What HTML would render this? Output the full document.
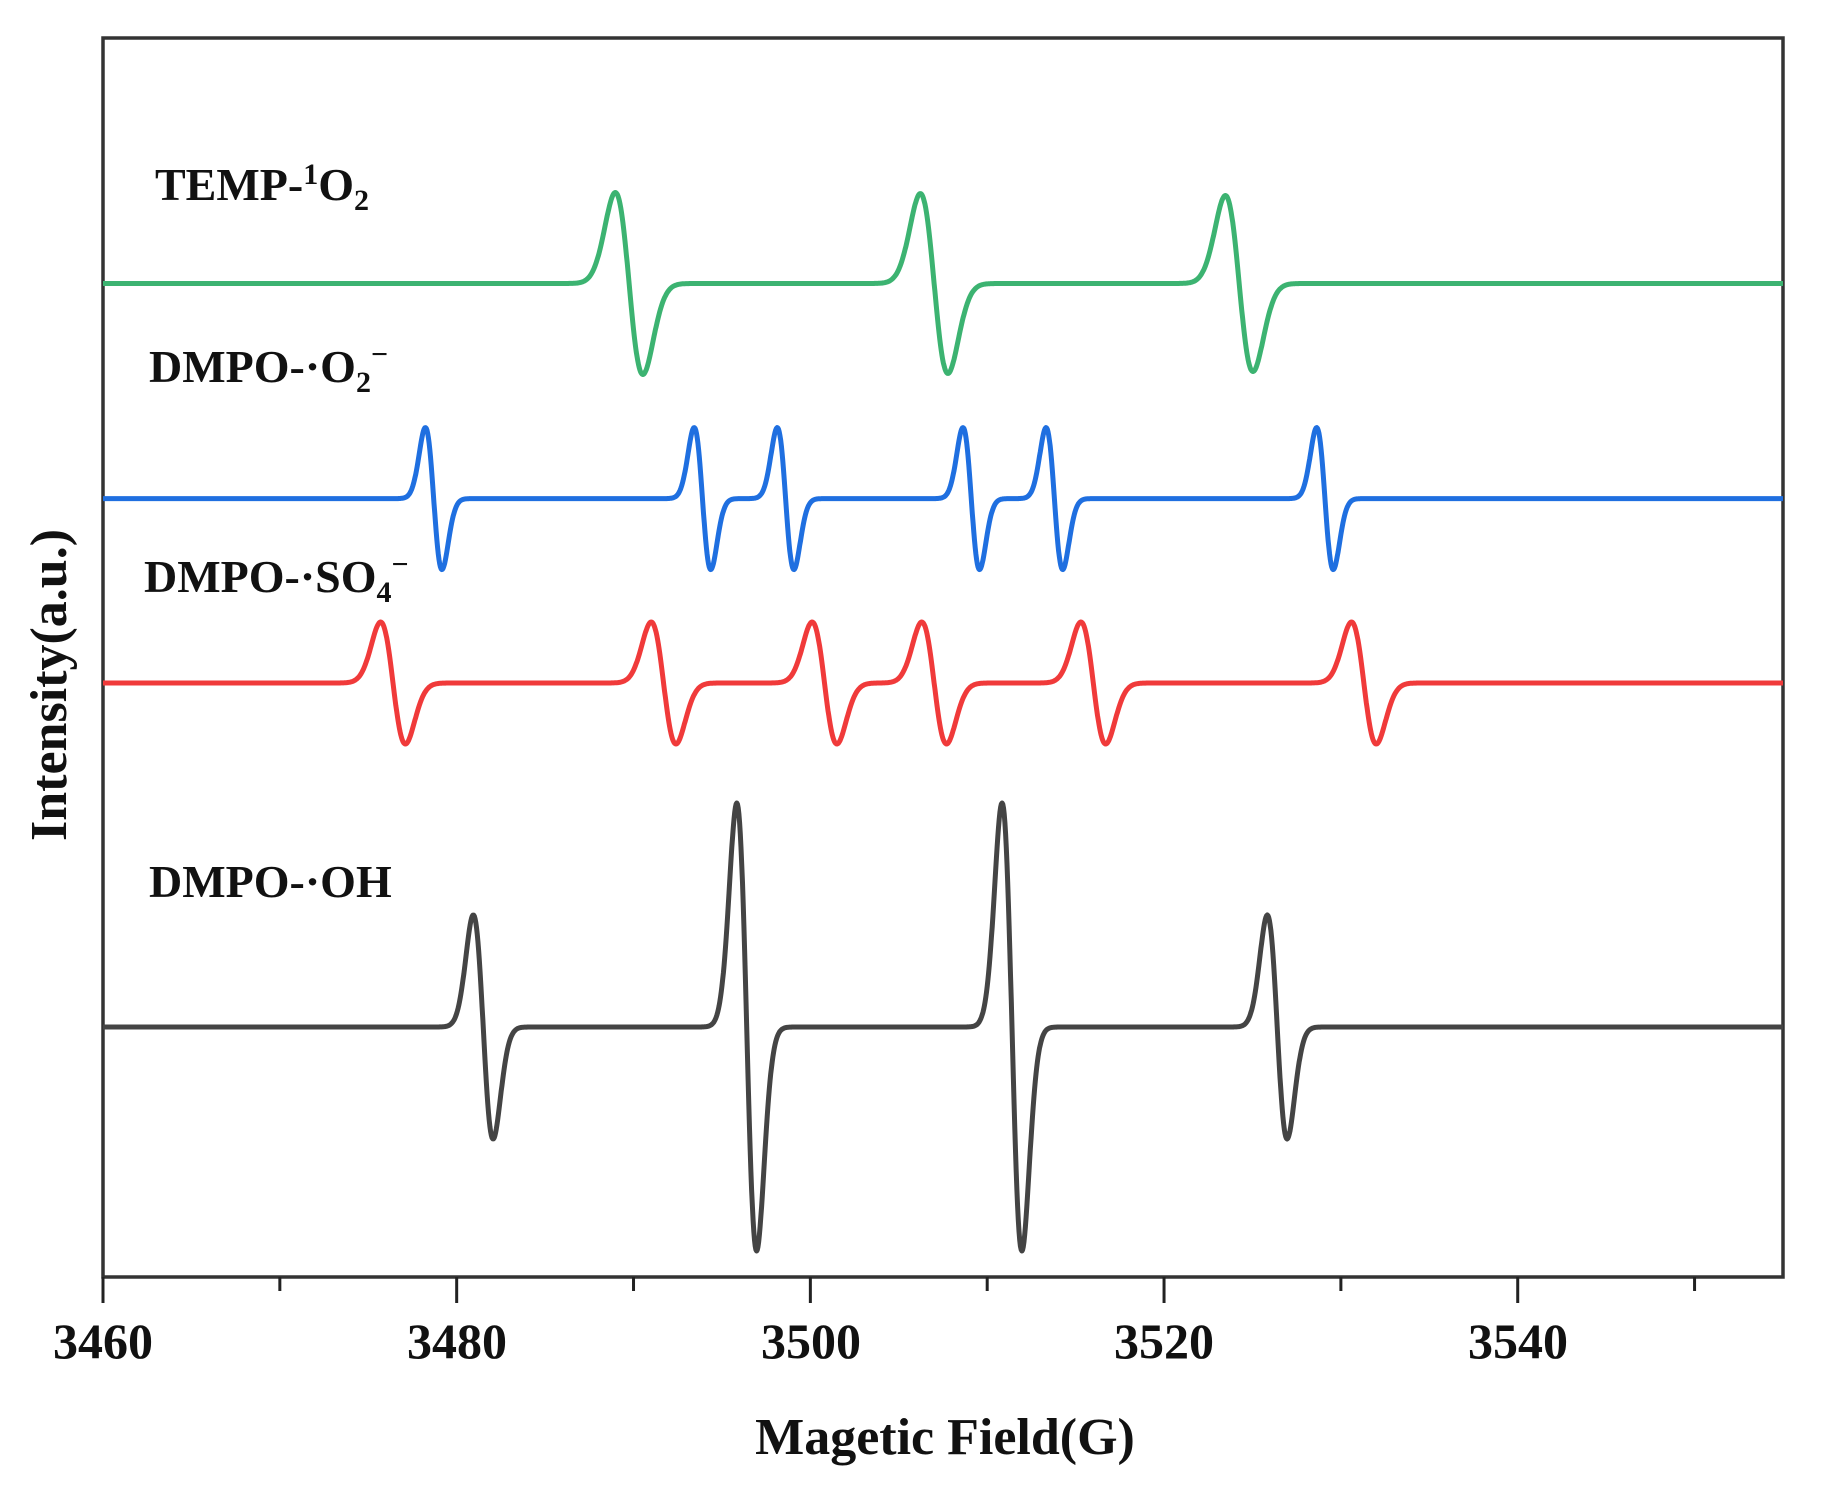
<!DOCTYPE html>
<html><head><meta charset="utf-8"><style>
body{margin:0;background:#fff;}
svg text{font-family:"Liberation Serif",serif;font-weight:bold;fill:#111;}
</style></head><body>
<svg id="s" width="1830" height="1491" viewBox="0 0 1830 1491" xmlns="http://www.w3.org/2000/svg">
<rect x="103" y="38" width="1680" height="1239" fill="none" stroke="#333" stroke-width="3.5"/>
<g id="ticks" stroke="#222" stroke-width="3"></g>
<g font-size="50" text-anchor="middle">
<text x="103" y="1358">3460</text><text x="457" y="1358">3480</text><text x="811" y="1358">3500</text><text x="1164" y="1358">3520</text><text x="1518" y="1358">3540</text>
</g>
<text x="945" y="1454" font-size="52" text-anchor="middle">Magetic Field(G)</text>
<text transform="translate(66,685) rotate(-90)" font-size="52" text-anchor="middle">Intensity(a.u.)</text>
<g font-size="46">
<text x="155" y="200">TEMP-<tspan font-size="30" dy="-16">1</tspan><tspan dy="16">O</tspan><tspan font-size="30" dy="10">2</tspan></text>
<text x="149" y="382">DMPO-·O<tspan font-size="30" dy="10">2</tspan><tspan font-size="30" dy="-28">−</tspan></text>
<text x="144" y="592">DMPO-·SO<tspan font-size="30" dy="10">4</tspan><tspan font-size="30" dy="-28">−</tspan></text>
<text x="149" y="897">DMPO-·OH</text>
</g>
<g id="traces" fill="none" stroke-width="5" stroke-linejoin="round"></g>
</svg>
<script>
var ns="http://www.w3.org/2000/svg";
function X(G){return 103+(G-3460)*17.684;}
var t=document.getElementById("ticks");
for(var G=3460;G<=3550;G+=10){var l=document.createElementNS(ns,"line");var x=X(G);l.setAttribute("x1",x);l.setAttribute("x2",x);l.setAttribute("y1",1277);l.setAttribute("y2",(G%20==0)?1303:1291);t.appendChild(l);}
var series=[
 {c:"#3cb371",b:283.5,s:0.78,p:[[3489.75,91],[3507.0,90],[3524.25,88]]},
 {c:"#1f6fe0",b:498.6,s:0.47,p:[[3478.7,71],[3493.9,71],[3498.6,71],[3509.1,71],[3513.8,71],[3529.1,71]]},
 {c:"#f03a3a",b:683,s:0.7,p:[[3476.4,61],[3491.7,61],[3500.8,61],[3507.0,61],[3516.0,61],[3531.3,61]]},
 {c:"#444444",b:1027,s:0.56,p:[[3481.5,112],[3496.4,224],[3511.4,224],[3526.4,112]]}
];
var tr=document.getElementById("traces");
series.forEach(function(S){
 var d="";
 for(var G=3460;G<=3555;G+=0.04){
  var y=0;
  S.p.forEach(function(q){var u=(G-q[0])/S.s;if(Math.abs(u)<6)y+=-q[1]*u*Math.exp(0.5-u*u/2);});
  d+=(d?"L":"M")+X(G).toFixed(1)+" "+(S.b-y).toFixed(1);
 }
 var p=document.createElementNS(ns,"path");p.setAttribute("d",d);p.setAttribute("stroke",S.c);tr.appendChild(p);
});
</script>
</body></html>
